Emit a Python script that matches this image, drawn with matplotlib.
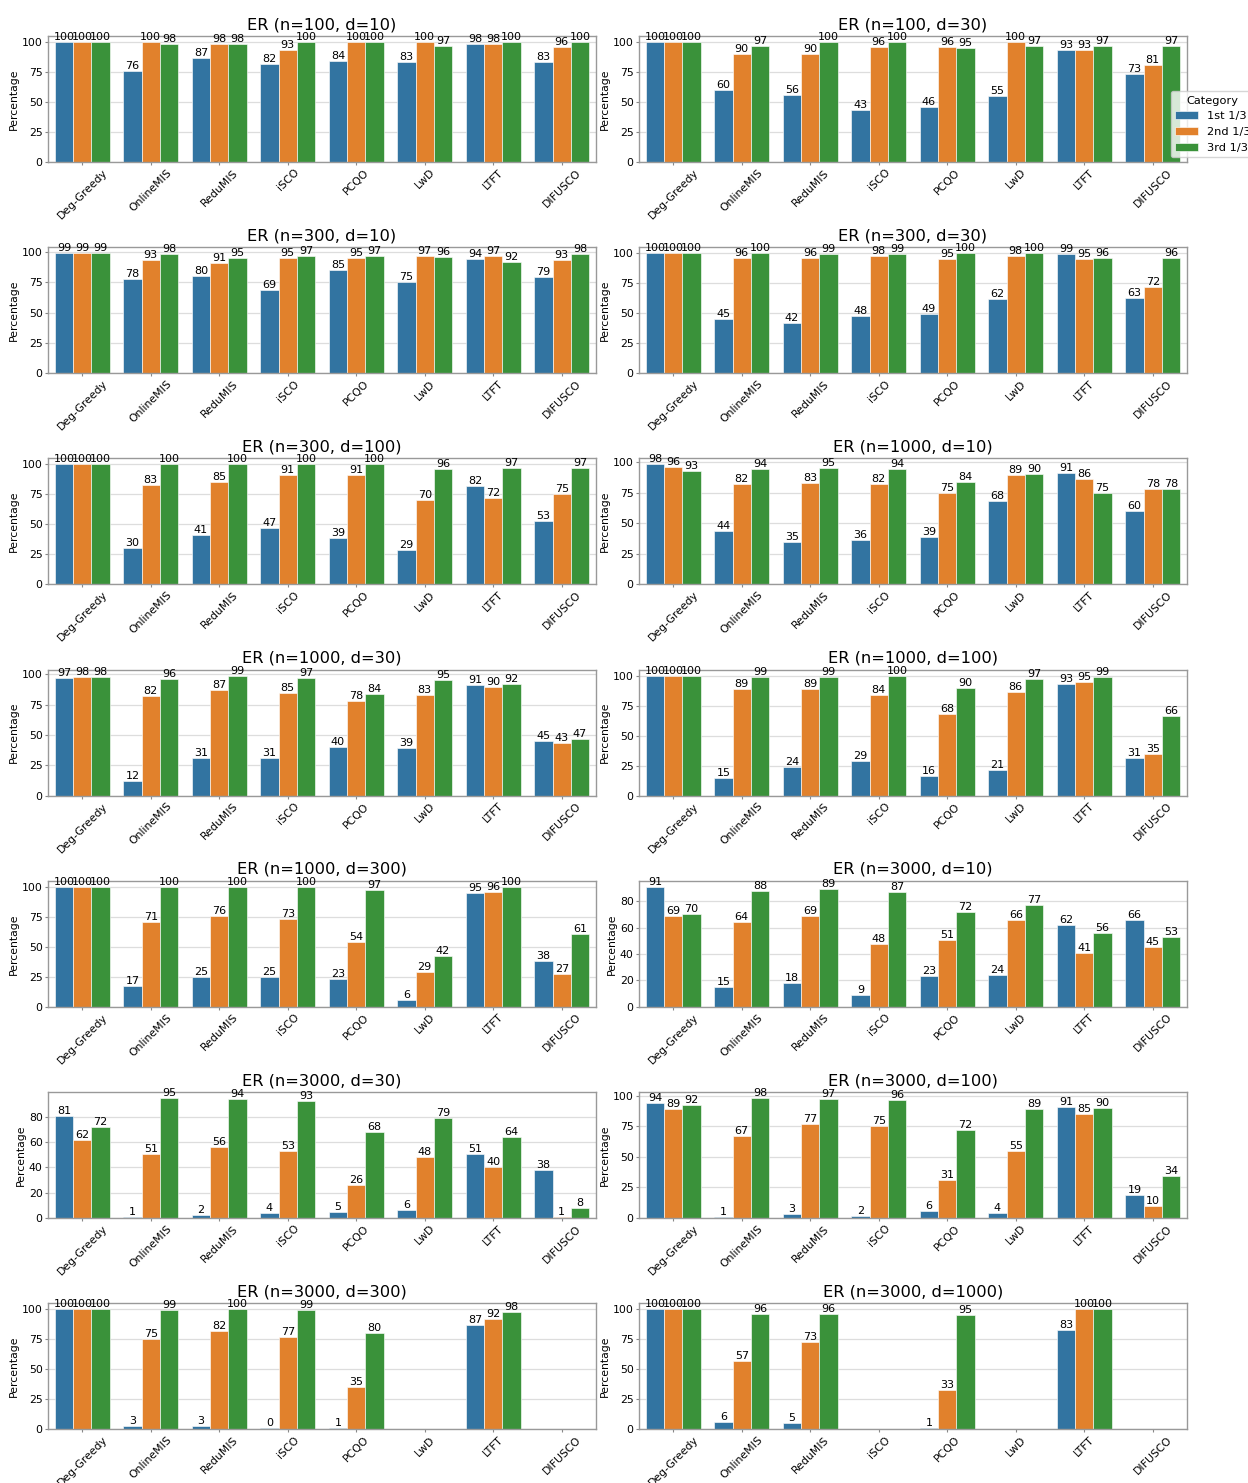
import numpy as np
import matplotlib
matplotlib.use("Agg")
import matplotlib.pyplot as plt

# Methods on the x axis and the three thirds shown as hue
methods = ["Deg-Greedy", "OnlineMIS", "ReduMIS", "iSCO", "PCQO", "LwD", "LTFT", "DIFUSCO"]
categories = ["1st 1/3", "2nd 1/3", "3rd 1/3"]
titles = [
    "ER (n=100, d=10)", "ER (n=100, d=30)",
    "ER (n=300, d=10)", "ER (n=300, d=30)",
    "ER (n=300, d=100)", "ER (n=1000, d=10)",
    "ER (n=1000, d=30)", "ER (n=1000, d=100)",
    "ER (n=1000, d=300)", "ER (n=3000, d=10)",
    "ER (n=3000, d=30)", "ER (n=3000, d=100)",
    "ER (n=3000, d=300)", "ER (n=3000, d=1000)",
]

nan = np.nan
# Each panel: rows = methods, columns = (1st 1/3, 2nd 1/3, 3rd 1/3)
er_100_10 = [[100, 100, 100], [76, 100, 98], [87, 98, 98], [82, 93, 100],
             [84, 100, 100], [83, 100, 97], [98, 98, 100], [83, 96, 100]]
er_100_30 = [[100, 100, 100], [60, 90, 97], [56, 90, 100], [43, 96, 100],
             [46, 96, 95], [55, 100, 97], [93, 93, 97], [73, 81, 97]]
er_300_10 = [[99, 99, 99], [78, 93, 98], [80, 91, 95], [69, 95, 97],
             [85, 95, 97], [75, 97, 96], [94, 97, 92], [79, 93, 98]]
er_300_30 = [[100, 100, 100], [45, 96, 100], [42, 96, 99], [48, 98, 99],
             [49, 95, 100], [62, 98, 100], [99, 95, 96], [63, 72, 96]]
er_300_100 = [[100, 100, 100], [30, 83, 100], [41, 85, 100], [47, 91, 100],
              [39, 91, 100], [29, 70, 96], [82, 72, 97], [53, 75, 97]]
er_1000_10 = [[98, 96, 93], [44, 82, 94], [35, 83, 95], [36, 82, 94],
              [39, 75, 84], [68, 89, 90], [91, 86, 75], [60, 78, 78]]
er_1000_30 = [[97, 98, 98], [12, 82, 96], [31, 87, 99], [31, 85, 97],
              [40, 78, 84], [39, 83, 95], [91, 90, 92], [45, 43, 47]]
er_1000_100 = [[100, 100, 100], [15, 89, 99], [24, 89, 99], [29, 84, 100],
               [16, 68, 90], [21, 86, 97], [93, 95, 99], [31, 35, 66]]
er_1000_300 = [[100, 100, 100], [17, 71, 100], [25, 76, 100], [25, 73, 100],
               [23, 54, 97], [6, 29, 42], [95, 96, 100], [38, 27, 61]]
er_3000_10 = [[91, 69, 70], [15, 64, 88], [18, 69, 89], [9, 48, 87],
              [23, 51, 72], [24, 66, 77], [62, 41, 56], [66, 45, 53]]
er_3000_30 = [[81, 62, 72], [1, 51, 95], [2, 56, 94], [4, 53, 93],
              [5, 26, 68], [6, 48, 79], [51, 40, 64], [38, 1, 8]]
er_3000_100 = [[94, 89, 92], [1, 67, 98], [3, 77, 97], [2, 75, 96],
               [6, 31, 72], [4, 55, 89], [91, 85, 90], [19, 10, 34]]
er_3000_300 = [[100, 100, 100], [3, 75, 99], [3, 82, 100], [0.9, 77, 99],
               [1, 35, 80], [nan, nan, nan], [87, 92, 98], [nan, nan, nan]]
er_3000_1000 = [[100, 100, 100], [6, 57, 96], [5, 73, 96], [nan, nan, nan],
                [1, 33, 95], [nan, nan, nan], [83, 100, 100], [nan, nan, nan]]

panels = [er_100_10, er_100_30, er_300_10, er_300_30, er_300_100, er_1000_10,
          er_1000_30, er_1000_100, er_1000_300, er_3000_10, er_3000_30,
          er_3000_100, er_3000_300, er_3000_1000]

colors = ["#3274a1", "#e1812c", "#3a923a"]

W, H = 1248, 1483
fig = plt.figure(figsize=(W / 100, H / 100), dpi=100)

fs = 7.8
col_left = [48, 639]
ax_w = 548
row_top0 = 36
row_pitch = 211.2
ax_h = 126

group_w = 0.8
bar_w = group_w / len(categories)
x = np.arange(len(methods))

for k, (title, data) in enumerate(zip(titles, panels)):
    r, c = divmod(k, 2)
    top = row_top0 + r * row_pitch
    ax = fig.add_axes([col_left[c] / W, 1 - (top + ax_h) / H, ax_w / W, ax_h / H])
    arr = np.array(data, dtype=float)
    for j, cat in enumerate(categories):
        xs = x - group_w / 2 + bar_w * (j + 0.5)
        vals = arr[:, j]
        ax.bar(xs, vals, width=bar_w, color=colors[j], label=cat,
               edgecolor=(1, 1, 1, 0.6), linewidth=0.7, zorder=2)
        for xi, v in zip(xs, vals):
            if np.isfinite(v):
                ax.text(xi, v, f"{int(v)}", ha="center", va="bottom",
                        fontsize=8, zorder=3)
    ax.set_xlim(-0.5, len(methods) - 0.5)
    ax.margins(y=0.05)
    ax.set_xticks(x)
    ax.set_xticklabels(methods, rotation=45, fontsize=fs)
    ax.tick_params(axis="y", labelsize=fs)
    ax.tick_params(length=2.5, width=0.8, color="#888888", pad=1.3)
    ax.set_ylabel("Percentage", fontsize=fs, labelpad=2)
    ax.set_title(title, fontsize=11.7, pad=5)
    ax.grid(axis="y", color="#dddddd", linewidth=0.9, zorder=0)
    ax.set_axisbelow(True)
    for s in ax.spines.values():
        s.set_color("#999999")
        s.set_linewidth(1.0)
    if k == 1:
        ax.legend(title="Category", loc="lower left", bbox_to_anchor=(0.97, 0.037),
                  borderaxespad=0, fontsize=8.2, title_fontsize=8.2, framealpha=0.8)

fig.savefig("out.png", dpi=100)
